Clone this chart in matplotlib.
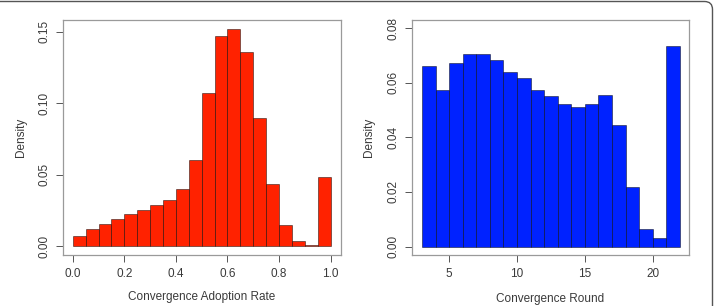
import numpy as np
import matplotlib
matplotlib.use("Agg")
import matplotlib.pyplot as plt
from matplotlib.patches import FancyBboxPatch

# histogram data (density per bin)
rate_edges = np.round(np.arange(0.0, 1.0001, 0.05), 2)
rate_density = [0.0070, 0.0119, 0.0158, 0.0190, 0.0223, 0.0251, 0.0286, 0.0320,
                0.0400, 0.0605, 0.1074, 0.1470, 0.1520, 0.1360, 0.0898, 0.0433,
                0.0151, 0.0037, 0.0005, 0.0486]

round_edges = np.arange(3, 23)
round_density = [0.0662, 0.0573, 0.0672, 0.0704, 0.0707, 0.0684, 0.0641, 0.0618,
                 0.0572, 0.0551, 0.0523, 0.0513, 0.0523, 0.0557, 0.0446, 0.0217,
                 0.0065, 0.0032, 0.0734]

rate_xticks = [0.0, 0.2, 0.4, 0.6, 0.8, 1.0]
rate_yticks = [0.00, 0.05, 0.10, 0.15]
round_xticks = [5, 10, 15, 20]
round_yticks = [0.00, 0.02, 0.04, 0.06, 0.08]

plt.rcParams['font.family'] = ['Liberation Sans', 'DejaVu Sans']
TXT = '#3a3a3a'


def hist_panel(ax, edges, dens, color, xticks, yticks, xfmt, xlabel, xlim, ylim, ylab_x):
    edges = np.asarray(edges, dtype=float)
    ax.bar(edges[:-1], dens, width=np.diff(edges), align='edge', color=color,
           edgecolor=(0, 0, 0, 0.55), linewidth=0.6)
    ax.set_xlim(*xlim)
    ax.set_ylim(*ylim)
    ax.set_xticks(xticks)
    ax.set_xticklabels([xfmt.format(t) for t in xticks])
    ax.set_yticks(yticks)
    ax.set_yticklabels([f"{t:.2f}" for t in yticks])
    for lbl in ax.get_yticklabels():
        lbl.set_rotation(90)
        lbl.set_va('center')
    for s in ax.spines.values():
        s.set_color('#9a9a9a')
        s.set_linewidth(0.9)
    ax.tick_params(axis='both', length=5, width=0.7, color='#555555',
                   labelsize=8.5, labelcolor=TXT)
    ax.tick_params(axis='x', pad=5)
    ax.tick_params(axis='y', pad=4)
    ax.set_xlabel(xlabel, fontsize=8.5, color=TXT)
    ax.set_ylabel('Density', fontsize=8.5, color=TXT)
    ax.xaxis.set_label_coords(0.5, -0.18)
    ax.xaxis.label.set_va('center')
    ax.yaxis.set_label_coords(ylab_x, 0.5)
    ax.yaxis.label.set_va('center')


fig = plt.figure(figsize=(7.14, 3.06), dpi=100)
ax1 = fig.add_axes([0.0878, 0.1683, 0.3894, 0.7663])
ax2 = fig.add_axes([0.5766, 0.1683, 0.3888, 0.7663])

hist_panel(ax1, rate_edges, rate_density, '#ff2200', rate_xticks, rate_yticks,
           "{:.1f}", 'Convergence Adoption Rate', (-0.039, 1.039), (-0.0058, 0.1582), -0.15)
hist_panel(ax2, round_edges, round_density, '#0022ff', round_xticks, round_yticks,
           "{:d}", 'Convergence Round', (2.24, 22.7), (-0.0029, 0.083), -0.154)
ax2.xaxis.set_label_coords(0.5, -0.19)

# outer frame of the figure panel (only top and right edges visible)
frame = FancyBboxPatch((-30, -30), 712.5 + 30, 304.5 + 30,
                       boxstyle="round,pad=0,rounding_size=8",
                       transform=None, fill=False, edgecolor='#555555', linewidth=1.0)
fig.patches.append(frame)

fig.savefig('out.png', dpi=100)
